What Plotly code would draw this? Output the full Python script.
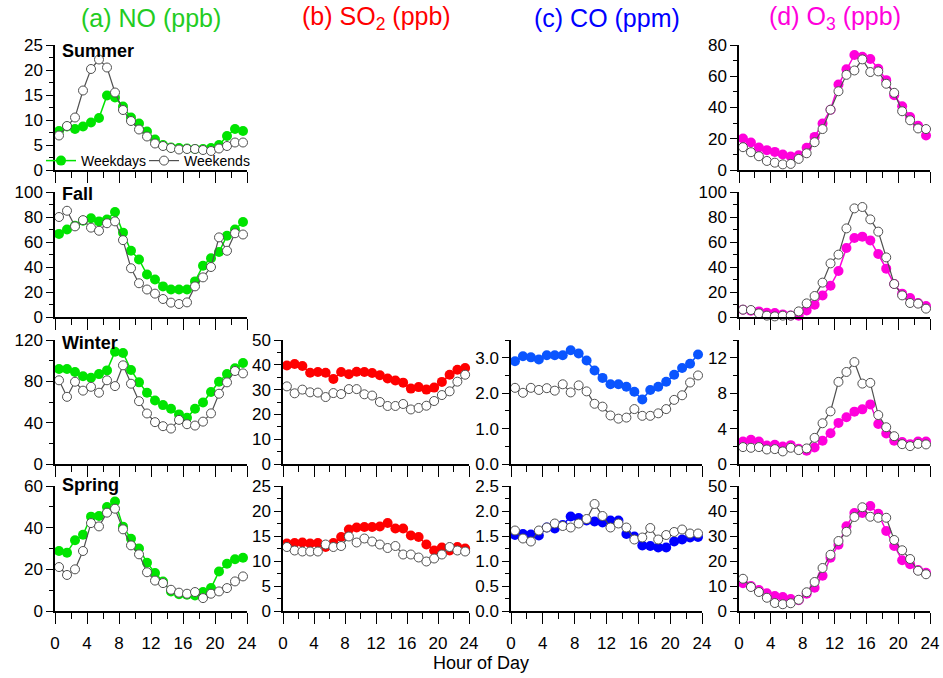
import plotly.graph_objects as go

W, H = 943, 678

# ---------------- data ----------------
hours = [0.5, 1.5, 2.5, 3.5, 4.5, 5.5, 6.5, 7.5, 8.5, 9.5, 10.5, 11.5,
         12.5, 13.5, 14.5, 15.5, 16.5, 17.5, 18.5, 19.5, 20.5, 21.5, 22.5, 23.5]

x_ticks = [0, 4, 8, 12, 16, 20, 24]
seasons = ["Summer", "Fall", "Winter", "Spring"]
column_titles = ["(a) NO (ppb)", "(b) SO<sub>2</sub> (ppb)", "(c) CO (ppm)", "(d) O<sub>3</sub> (ppb)"]
series_names = ["Weekdays", "Weekends"]

no_summer_wd = [7.8, 8.7, 8.2, 8.7, 9.5, 10.4, 14.9, 14.5, 12.7, 10.5, 9.3, 7.7,
                6.1, 5.0, 4.5, 4.4, 4.3, 4.2, 4.2, 4.4, 5.0, 6.8, 8.2, 7.8]
no_summer_we = [6.9, 8.8, 10.5, 15.9, 20.2, 22.1, 20.5, 15.5, 12.0, 9.8, 8.1, 6.7,
                5.3, 4.8, 4.4, 4.1, 4.2, 4.2, 4.0, 3.8, 4.3, 4.8, 5.5, 5.5]
no_fall_wd = [66.5, 70, 73, 77, 79, 76.5, 78, 84, 67.5, 53, 46, 34,
              30, 24.5, 22, 22, 22, 28.5, 41, 47, 52, 65, 70, 76]
no_fall_we = [80, 85, 72.5, 77.5, 71.5, 69, 75, 76.5, 61.5, 39, 27, 22,
              18.7, 14.4, 11.5, 10.4, 11.7, 24.5, 31.7, 40, 63.7, 53, 67, 66]
no_winter_wd = [92, 92, 89, 85, 83.5, 87, 90.6, 108.7, 107.4, 91, 79, 69,
                61.5, 57, 53.4, 48, 44.7, 53.4, 59.5, 69.6, 79.6, 87, 92.6, 97.7]
no_winter_we = [81, 65, 79.6, 71, 74.7, 69, 81, 75.4, 95.5, 77.7, 60.8, 48.9,
                40.5, 36.6, 34.3, 42.7, 38.5, 37.2, 41, 49, 68, 79, 90, 87.7]
no_spring_wd = [28.8, 28, 34, 36.6, 45.3, 45.6, 49.9, 52.6, 40.5, 34.7, 30, 23.2,
                18.2, 14.2, 9.4, 8, 7.8, 7.5, 9.1, 11, 19, 22.7, 24.8, 25.6]
no_spring_we = [21.1, 17.3, 20, 28.8, 42.2, 40.6, 47.2, 49.1, 39.2, 31.5, 27.2, 18.6,
                14.6, 13.4, 10.2, 8.8, 8.3, 9.1, 6.2, 8.3, 9.4, 11, 14.2, 16.6]

so2_winter_wd = [39.7, 40.3, 39.5, 36.8, 37.1, 36.8, 34.3, 37.1, 36.2, 37.2, 37.1, 36.7,
                 35.8, 34.5, 33.7, 32.8, 30.4, 31, 30, 30.8, 33.1, 36, 38, 38.7]
so2_winter_we = [31.3, 28.5, 30, 28.9, 28.8, 27, 28.6, 28.2, 30.2, 30.2, 28.1, 27.6,
                 25, 23.4, 23.4, 24.2, 22, 22.6, 23.5, 25.4, 27.8, 29.3, 33.2, 36]
so2_spring_wd = [13.5, 13.6, 13.7, 13.5, 13.6, 12.8, 13.6, 14.8, 16.3, 16.7, 16.8, 16.8,
                 16.9, 17.6, 16.5, 16.5, 15.1, 14.8, 13.3, 12.1, 12.7, 12.1, 12.8, 12.5]
so2_spring_we = [12.8, 12.1, 11.9, 11.9, 11.9, 13.3, 12.8, 13, 14.9, 13.7, 14.5, 13.9,
                 13.3, 12.6, 13, 11.3, 11.3, 10.7, 9.9, 10.5, 11.3, 12.8, 12.1, 11.9]

co_winter_wd = [2.90, 3.04, 3.01, 2.95, 3.07, 3.07, 3.07, 3.21, 3.12, 2.92, 2.64, 2.43,
                2.25, 2.25, 2.18, 2.04, 1.82, 2.09, 2.18, 2.32, 2.52, 2.71, 2.83, 3.09]
co_winter_we = [2.15, 2.01, 2.15, 2.09, 2.14, 2.07, 2.25, 2.02, 2.22, 2.05, 1.70, 1.62,
                1.37, 1.28, 1.31, 1.55, 1.36, 1.36, 1.43, 1.55, 1.81, 1.94, 2.30, 2.50]
co_spring_wd = [1.52, 1.54, 1.53, 1.51, 1.67, 1.65, 1.72, 1.89, 1.86, 1.81, 1.79, 1.77,
                1.81, 1.81, 1.54, 1.49, 1.31, 1.30, 1.27, 1.27, 1.39, 1.43, 1.47, 1.48]
co_spring_we = [1.61, 1.45, 1.39, 1.61, 1.67, 1.75, 1.70, 1.67, 1.75, 1.84, 2.14, 1.90,
                1.67, 1.75, 1.67, 1.43, 1.47, 1.66, 1.43, 1.52, 1.58, 1.63, 1.55, 1.55]

o3_summer_wd = [20.2, 17.6, 14.4, 12.7, 11.6, 9.9, 8.6, 9.4, 14.2, 21.2, 29.8, 38.6,
                54.7, 64.4, 73.6, 72.5, 71, 64.8, 57.5, 47.9, 40.8, 33.9, 28.3, 22.1]
o3_summer_we = [14.6, 11.4, 8.8, 5.8, 4.7, 3.6, 3.9, 7.1, 10.7, 17.8, 26.2, 38.6,
                50.4, 60.9, 63.7, 70.8, 62.7, 63.1, 55.2, 49.4, 37.6, 31.8, 26.6, 26.2]
o3_fall_wd = [5.9, 5.0, 4.5, 3.5, 3.2, 2.1, 1.3, 1.0, 5.3, 9.9, 17.3, 25,
              36.8, 55.2, 63.2, 64.3, 61.3, 50.4, 38.7, 26.4, 18.7, 15.2, 11.2, 8.8]
o3_fall_we = [5.9, 5.6, 2.9, 1.1, 0.5, 1.1, 1.1, 4.5, 10.9, 16.8, 27.5, 42.9,
              49.9, 70.9, 86.9, 88, 78.1, 68.3, 47.7, 26.4, 17.3, 11.2, 10.7, 6.7]
o3_winter_wd = [2.54, 2.73, 2.54, 2.09, 2.17, 1.98, 2.13, 1.72, 1.50, 1.87, 2.62, 3.48,
                4.64, 5.27, 5.91, 6.17, 6.73, 4.52, 3.44, 2.62, 2.47, 2.24, 2.54, 2.54]
o3_winter_we = [1.91, 1.83, 1.91, 1.64, 1.68, 1.42, 1.83, 1.57, 1.76, 2.95, 4.60, 5.94,
                9.27, 10.39, 11.51, 9.08, 9.16, 5.53, 4.15, 3.14, 2.24, 2.02, 2.28, 2.21]
o3_spring_wd = [11.1, 10, 8.4, 7.1, 6, 5.6, 4.8, 4.3, 6.9, 9.3, 14.1, 21.3,
                26.5, 33.9, 39.2, 39.2, 42, 38.9, 32, 26, 20.3, 18.7, 16.4, 15.3]
o3_spring_we = [12.9, 9.6, 7.6, 5.3, 3.2, 2.7, 3.1, 4.5, 7.5, 11.6, 17.2, 22.5,
                28, 31.7, 37.6, 41.5, 37.7, 37.3, 37.3, 28.4, 24.3, 20.8, 16.1, 14.7]

# ---------------- styling ----------------
FONT = "Liberation Sans, Arial, sans-serif"
C_NO, C_SO2, C_CO_W, C_CO_S, C_O3 = "#00E400", "#FF0000", "#0A55FF", "#0000FF", "#FF00DC"
TITLE_COLORS = ["#22CC22", "#FF0000", "#0000FF", "#FF00DC"]
WE_LINE = "#505050"

col_px = [(55, 247), (283, 469), (511, 702), (739, 930)]
row_px = [(45, 170), (192, 317), (340, 464), (486, 611)]

# (col, row, weekday, weekend, color, yrange, dtick, minor dtick, tickformat)
panels = [
    (0, 0, no_summer_wd, no_summer_we, C_NO, [0, 25], 5, 2.5, None),
    (0, 1, no_fall_wd, no_fall_we, C_NO, [0, 100], 20, 10, None),
    (0, 2, no_winter_wd, no_winter_we, C_NO, [0, 120], 40, 20, None),
    (0, 3, no_spring_wd, no_spring_we, C_NO, [0, 60], 20, 10, None),
    (1, 2, so2_winter_wd, so2_winter_we, C_SO2, [0, 50], 10, 5, None),
    (1, 3, so2_spring_wd, so2_spring_we, C_SO2, [0, 25], 5, 2.5, None),
    (2, 2, co_winter_wd, co_winter_we, C_CO_W, [0, 3.5], 1, 0.5, ".1f"),
    (2, 3, co_spring_wd, co_spring_we, C_CO_S, [0, 2.5], 0.5, 0.25, ".1f"),
    (3, 0, o3_summer_wd, o3_summer_we, C_O3, [0, 80], 20, 10, None),
    (3, 1, o3_fall_wd, o3_fall_we, C_O3, [0, 100], 20, 10, None),
    (3, 2, o3_winter_wd, o3_winter_we, C_O3, [0, 14], 4, 2, None),
    (3, 3, o3_spring_wd, o3_spring_we, C_O3, [0, 50], 10, 5, None),
]

fig = go.Figure()
layout = {}
for i, (c, r, wd, we, color, yr, dt, mdt, fmt) in enumerate(panels, start=1):
    xs = "" if i == 1 else str(i)
    first = (c == 0 and r == 0)
    fig.add_trace(go.Scatter(
        x=hours, y=wd, mode="lines+markers", name=series_names[0],
        line=dict(color=color, width=1.5),
        marker=dict(color=color, size=10, line=dict(width=0)),
        xaxis="x" + xs, yaxis="y" + xs, showlegend=first, legendwidth=58, cliponaxis=False))
    fig.add_trace(go.Scatter(
        x=hours, y=we, mode="lines+markers", name=series_names[1],
        line=dict(color=WE_LINE, width=1.2),
        marker=dict(color="white", size=9, line=dict(color=WE_LINE, width=1)),
        xaxis="x" + xs, yaxis="y" + xs, showlegend=first, cliponaxis=False))
    x0, x1 = col_px[c]
    y0, y1 = row_px[r]
    layout["xaxis" + xs] = dict(
        domain=[x0 / W, x1 / W], anchor="y" + xs, range=[0, 24], automargin=False,
        tickmode="array", tickvals=x_ticks, showticklabels=(r == 3), ticklabelstandoff=5,
        ticks="outside", ticklen=11, tickwidth=1.3, tickcolor="black",
        minor=dict(dtick=2, tick0=0, ticks="outside", ticklen=6, tickwidth=1.3, tickcolor="black", showgrid=False),
        showline=True, linecolor="black", linewidth=1.5, showgrid=False, zeroline=False,
        tickfont=dict(size=17, family=FONT, color="black"), fixedrange=True)
    layout["yaxis" + xs] = dict(
        domain=[1 - y1 / H, 1 - y0 / H], anchor="x" + xs, range=yr, automargin=False,
        dtick=dt, tick0=0, tickformat=fmt,
        ticks="outside", ticklen=7, tickwidth=1.3, tickcolor="black",
        minor=dict(dtick=mdt, tick0=0, ticks="outside", ticklen=4, tickwidth=1.3, tickcolor="black", showgrid=False),
        showline=True, linecolor="black", linewidth=1.5, showgrid=False, zeroline=False,
        tickfont=dict(size=17, family=FONT, color="black"), fixedrange=True)

annotations = []
for k, t in enumerate(column_titles):
    x0, x1 = col_px[k]
    annotations.append(dict(text=t, x=(x0 + x1) / 2 / W, y=1 - 18 / H, xref="paper", yref="paper",
                            xanchor="center", yanchor="middle", showarrow=False,
                            font=dict(size=25, family=FONT, color=TITLE_COLORS[k])))
season_y = [51, 194, 343, 485]
for k, s in enumerate(seasons):
    annotations.append(dict(text="<b>" + s + "</b>", x=60 / W, y=1 - season_y[k] / H, xref="paper", yref="paper",
                            xanchor="left", yanchor="middle", showarrow=False,
                            font=dict(size=18, family=FONT, color="black")))
annotations.append(dict(text="Hour of Day", x=481 / W, y=1 - 663 / H, xref="paper", yref="paper",
                        xanchor="center", yanchor="middle", showarrow=False,
                        font=dict(size=18, family=FONT, color="black")))

fig.update_layout(
    width=W, height=H, margin=dict(l=0, r=0, t=0, b=0, autoexpand=False),
    plot_bgcolor="white", paper_bgcolor="white",
    font=dict(family=FONT, size=16, color="black"),
    showlegend=True,
    legend=dict(orientation="h", x=41 / W, y=1 - 161 / H, xanchor="left", yanchor="middle",
                bgcolor="rgba(0,0,0,0)", font=dict(size=14, family=FONT, color="black"),
                itemwidth=30, tracegroupgap=0),
    annotations=annotations,
    **layout)

fig.write_html("out.html", config={"displayModeBar": False},
               post_script="document.body.style.margin='0px';document.body.style.padding='0px';")
